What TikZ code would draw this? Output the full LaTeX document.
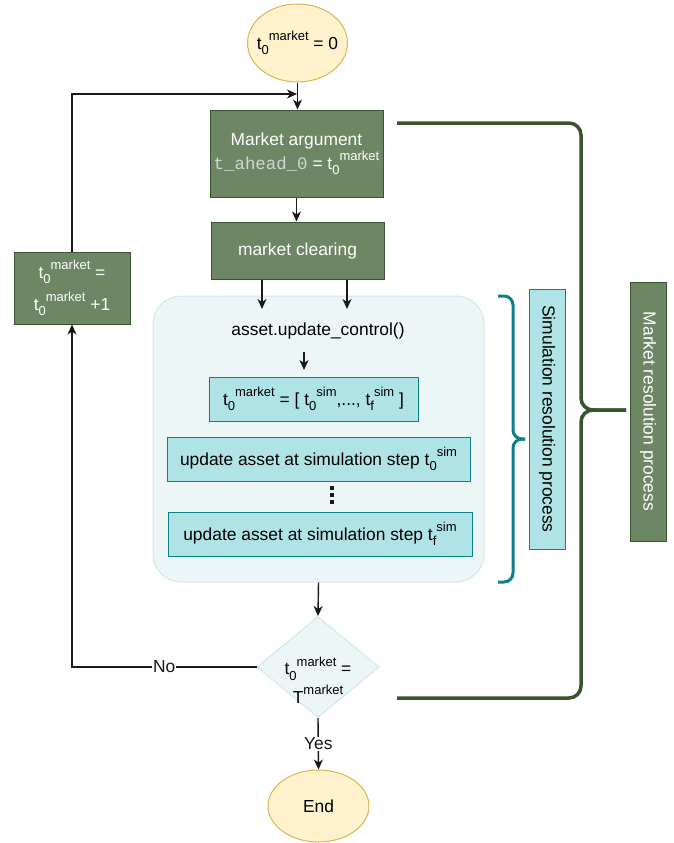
\documentclass[tikz,border=0pt]{standalone}
\usepackage{fontspec}
\setmainfont{Liberation Sans}
\newfontfamily\codefont{Liberation Mono}
\usetikzlibrary{
		positioning,
		arrows.meta,
		shapes.geometric
	}
\definecolor{mktgreen}{HTML}{6D8764}
\definecolor{mktline}{HTML}{3A5431}
\definecolor{simcyan}{HTML}{B0E3E6}
\definecolor{simteal}{HTML}{0E8088}
\definecolor{panelfill}{HTML}{EDF6F7}
\definecolor{panelline}{HTML}{D3E6E9}
\definecolor{startfill}{HTML}{FFF2CC}
\definecolor{startline}{HTML}{D6B656}
\definecolor{codegray}{HTML}{D4D4D4}
\newcommand{\upidx}[1]{\raisebox{0.5em}{\fontsize{13}{13}\selectfont #1}}
\newcommand{\dnidx}[1]{\raisebox{-0.3em}{\fontsize{13}{13}\selectfont #1}}
\newcommand{\tmk}{t\dnidx{0}\upidx{market}}
\tikzset{
		>={Stealth[length=10pt, width=9pt, inset=3pt]},
		base/.style={font=\fontsize{17.4}{22}\selectfont, inner sep=0pt, align=center},
		terminal/.style={base, ellipse, draw=startline, fill=startfill, line width=1pt},
		greenbox/.style={base, rectangle, draw=mktline, fill=mktgreen, text=white, line width=1pt},
		cyanbox/.style={base, rectangle, draw=simteal, fill=simcyan, line width=1pt},
		panel/.style={rectangle, rounded corners=28pt, draw=panelline, fill=panelfill, line width=1pt},
		decision/.style={diamond, draw=panelline, fill=panelfill, line width=1pt, inner sep=0pt},
		flow/.style={->, line width=1.4pt, black!90},
		tag/.style={base, fill=white, inner sep=1pt}
	}

\begin{document}
\begin{tikzpicture}[x=1pt, y=-1pt]
		\useasboundingbox (0,0) rectangle (674,843);
		\node[terminal, minimum width=100pt, minimum height=78pt] (start) at (297.5,43) {\makebox[60pt][c]{\tmk{} = 0}};
		\node[greenbox, minimum width=173pt, minimum height=87pt] (margs) at (296.5,153.5) {Market argument\\[2pt] {\codefont\color{codegray}t\_ahead\_0} = \tmk};
		\node[greenbox, minimum width=173pt, minimum height=57pt] (mclear) at (297.5,250.5) {market clearing};
		\node[greenbox, minimum width=116pt, minimum height=72pt] (incr) at (72,288) {\tmk{} =\\[7pt] \tmk{} +1};
		\node[panel, minimum width=331pt, minimum height=286pt] (simpanel) at (318.5,439) {};
		\node[base] (ctrl) at (318,331) {asset.update\_control()};
		\node[cyanbox, minimum width=209pt, minimum height=44pt] (tlist) at (313.5,399) {\tmk{} = [ t\dnidx{0}\upidx{sim},..., t\dnidx{f}\upidx{sim} ]};
		\node[cyanbox, minimum width=303pt, minimum height=44pt] (stepfirst) at (318.5,459) {update asset at simulation step t\dnidx{0}\upidx{sim}};
		\node[cyanbox, minimum width=304pt, minimum height=44pt] (steplast) at (320,534) {update asset at simulation step t\dnidx{f}\upidx{sim}};
		\node[decision, minimum width=122pt, minimum height=101pt] (check) at (318,667) {};
		\node[base] (checktext) at (318,680) {\tmk{} =\\[4pt] T\upidx{market}};
		\node[terminal, minimum width=101pt, minimum height=72pt] (finish) at (318.5,806) {End};
		\node[cyanbox, rotate=-90, minimum width=260pt, minimum height=36pt] (simres) at (547,419) {Simulation resolution process};
		\node[greenbox, rotate=-90, minimum width=259pt, minimum height=36pt] (mktres) at (648,411.5) {Market resolution process};
		\fill[black!90] (330,486) rectangle (334,490);
		\fill[black!90] (330,493) rectangle (334,497);
		\fill[black!90] (330,500) rectangle (334,504);
		\coordinate (merge) at (297,94);
		\coordinate (inleft) at (262,309);
		\coordinate (inright) at (347,309);
		\coordinate (ctrlout) at (304,352);
		\coordinate (listin) at (304,370);
		\draw[flow] (start.south) -- (start.south |- margs.north);
		\draw[flow] (incr.north) |- (merge);
		\draw[flow] (margs.south) -- (margs.south |- mclear.north);
		\draw[flow] (mclear.south -| inleft) -- (inleft);
		\draw[flow] (mclear.south -| inright) -- (inright);
		\draw[flow] (ctrlout) -- (listin);
		\draw[flow] (simpanel.south) -- (check.north);
		\draw[flow] (check.west) -| (incr.south) node[tag, pos=0.25] {No};
		\draw[flow] (check.south) -- (finish.north) node[tag, midway] {Yes};
		\draw[simteal, line width=3pt, rounded corners=9pt] (498,296) -- (513,296) -- (513,439) -- (525,439);
		\draw[simteal, line width=3pt, rounded corners=9pt] (498,582) -- (513,582) -- (513,439) -- (525,439);
		\draw[mktline, line width=3.5pt, rounded corners=12pt] (397,123) -- (581,123) -- (581,410) -- (626,410);
		\draw[mktline, line width=3.5pt, rounded corners=12pt] (397,698) -- (581,698) -- (581,410) -- (626,410);
	\end{tikzpicture}
\end{document}
